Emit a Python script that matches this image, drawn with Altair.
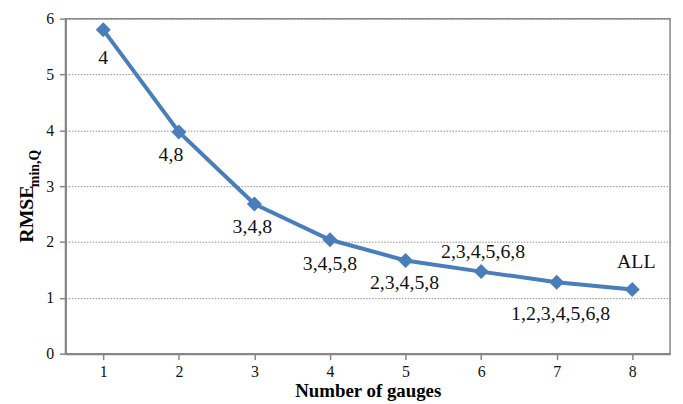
import altair as alt
import pandas as pd

# ---- data ----
gauges = [1, 2, 3, 4, 5, 6, 7, 8]
rmse = [5.80, 3.97, 2.68, 2.04, 1.67, 1.47, 1.28, 1.15]
combos = ["4", "4,8", "3,4,8", "3,4,5,8", "2,3,4,5,8", "2,3,4,5,6,8", "1,2,3,4,5,6,8", "ALL"]
y_ticks = [0, 1, 2, 3, 4, 5, 6]

df = pd.DataFrame({"n": gauges, "rmse": rmse, "combo": combos})

W, H = 610, 338
FONT = "Liberation Serif"
BLUE = "#4A7EBB"
GREY = "#868686"

x_enc = alt.X("n:O", scale=alt.Scale(padding=0.5),
              axis=alt.Axis(title="Number of gauges", labelAngle=0, grid=False,
                            titleFont=FONT, titleFontSize=19, titleFontWeight="bold",
                            titleColor="#000000", titlePadding=2, labelPadding=4))
y_enc = alt.Y("rmse:Q", scale=alt.Scale(domain=[0, 6], nice=False),
              axis=alt.Axis(title=None, values=y_ticks, grid=True, labelPadding=6))

base = alt.Chart(df).encode(x=x_enc, y=y_enc)

line = base.mark_line(color=BLUE, strokeWidth=4)
pts = base.mark_point(shape="diamond", filled=True, size=230, color=BLUE, opacity=1)

# label placement (style): offsets relative to each point
offsets = [(0, 28), (-8, 23), (-2, 23), (0, 25), (-1, 23), (2, -20), (4, 32), (4, -28)]
label_layers = []
for g, (dx, dy) in zip(gauges, offsets):
    label_layers.append(
        base.transform_filter(alt.datum.n == g)
        .mark_text(font=FONT, fontSize=20, color="#111111", dx=dx, dy=dy,
                   align="center", baseline="middle")
        .encode(text="combo:N")
    )

# rotated y-axis title with subscript
ytitle_main = alt.Chart(pd.DataFrame({"t": ["RMSE"]})).mark_text(
    font=FONT, fontSize=20, fontWeight="bold", angle=270, align="left",
    baseline="middle", color="#000000"
).encode(text="t:N", x=alt.value(-39), y=alt.value(226))
ytitle_sub = alt.Chart(pd.DataFrame({"t": ["min,Q"]})).mark_text(
    font=FONT, fontSize=14, fontWeight="bold", angle=270, align="left",
    baseline="middle", color="#000000"
).encode(text="t:N", x=alt.value(-31), y=alt.value(170))

chart = alt.layer(line, pts, *label_layers, ytitle_main, ytitle_sub).properties(
    width=W, height=H,
    autosize=alt.AutoSizeParams(type="none"),
    padding={"left": 58, "top": 9, "right": 5, "bottom": 49},
).configure_view(
    stroke=GREY, strokeWidth=1.5
).configure_axis(
    labelFont=FONT, labelFontSize=16, labelColor="#111111",
    domainColor=GREY, domainWidth=2, tickColor=GREY, tickWidth=1.5, tickSize=6,
    gridColor="#8c8c8c", gridDash=[1.5, 1.5], gridWidth=1,
)

chart.save("out.html", embed_options={"renderer": "svg", "actions": False})
